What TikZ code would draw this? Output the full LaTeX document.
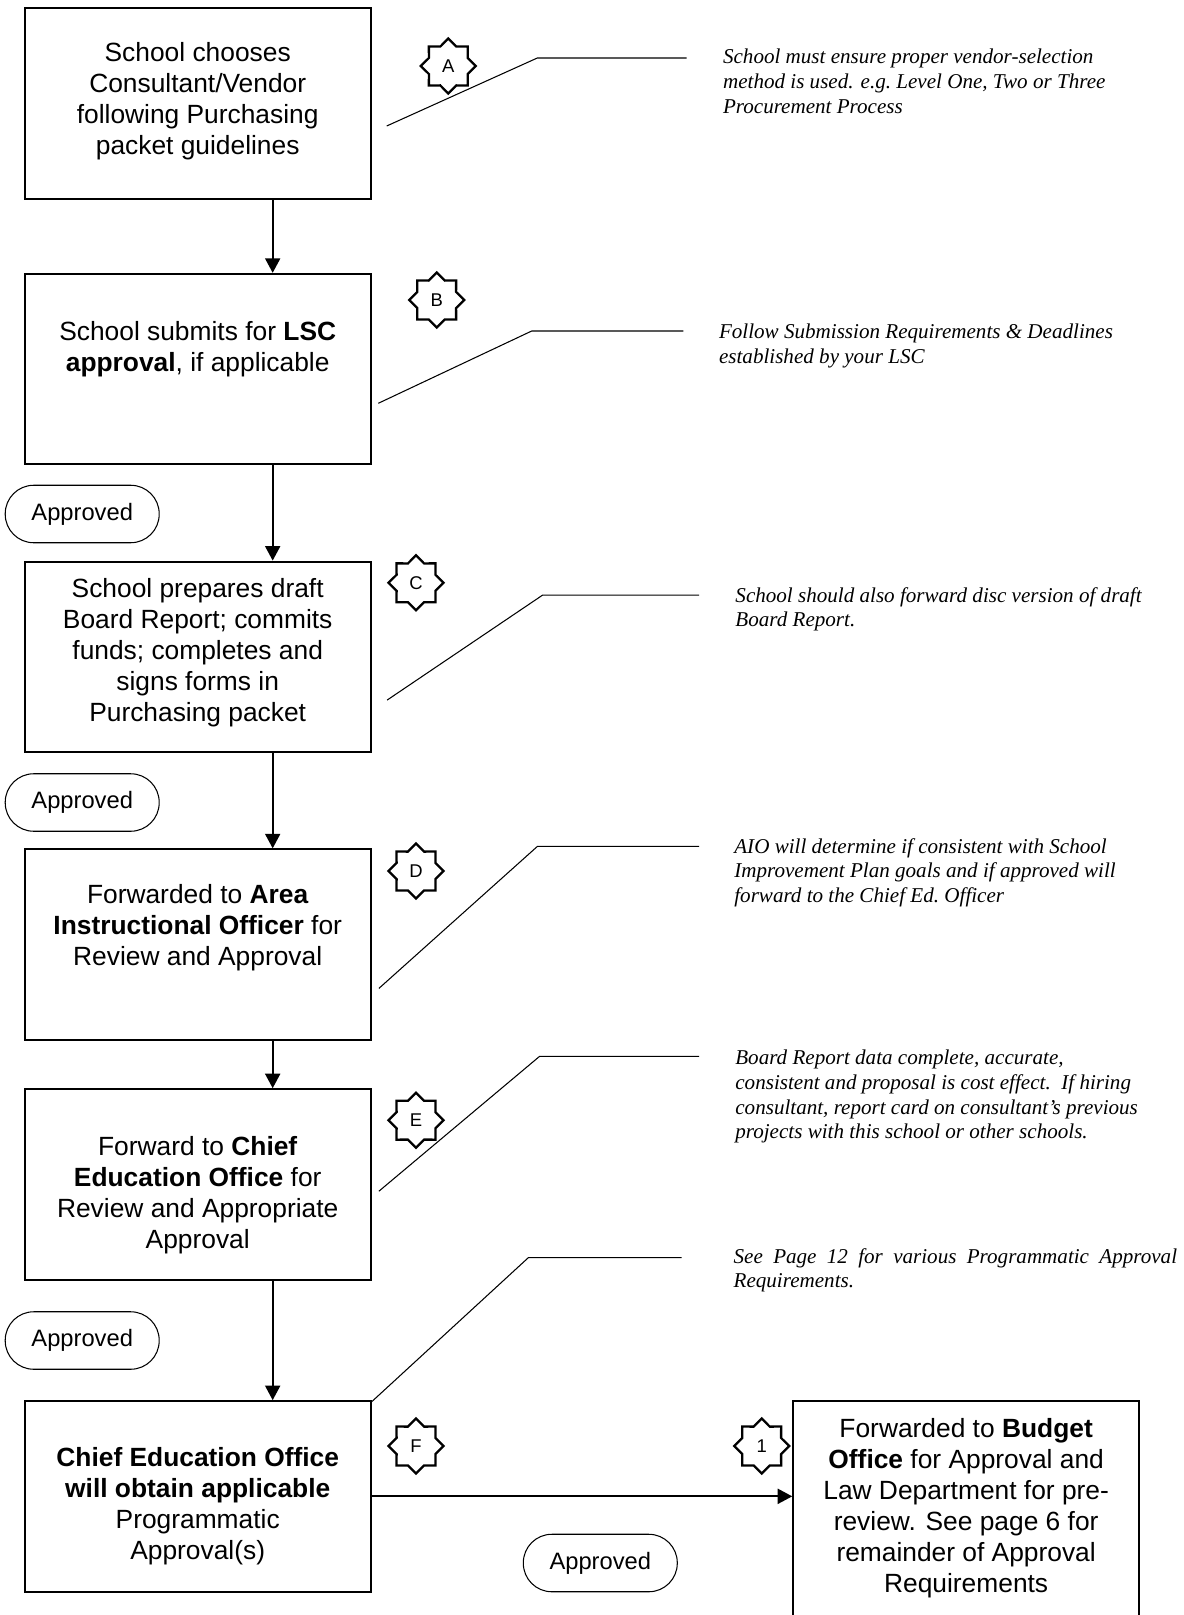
\documentclass[tikz,border=0pt]{standalone}
\usepackage{fontspec}
\setmainfont{Liberation Sans}
\newfontfamily\notefont{Liberation Serif}
\usetikzlibrary{arrows.meta, shapes.geometric}
\tikzset{
	leader/.style = {line width=0.6pt},
	flow/.style = {line width=1.1pt, -{Triangle[length=0.29cm, width=0.3cm]}}
}

\begin{document}
\begin{tikzpicture}[x=0.02cm, y=-0.02cm, node distance=5.756cm]
            \tikzstyle{block} = [draw, rectangle, line width=1.1pt,
                minimum height=3.81cm, minimum width=6.92cm, inner sep=0pt]
            \tikzstyle{boxtext} = [align=center, inner sep=0pt,
                font=\fontsize{15}{17.6}\selectfont]
            \tikzstyle{badge} = [draw, star, star points=8, star point ratio=1.31,
                minimum size=1.1cm, inner sep=0pt, line width=1.3pt,
                font=\fontsize{10.5}{12}\selectfont]
            \tikzstyle{ok} = [draw, rectangle, rounded corners=0.57cm, line width=0.6pt,
                minimum width=3.08cm, minimum height=1.15cm,
                font=\fontsize{13.5}{16}\selectfont]
            \tikzstyle{note} = [anchor=north west, align=left, inner sep=0pt,
                font=\notefont\itshape\fontsize{12}{14}\selectfont]
            \useasboundingbox (0,0) rectangle (1183,1615);
            \clip (0,0) rectangle (1183,1615);

            % main column
            \node [block] (choose) at (197.7,103.5) {};
            \node [block, below of=choose, node distance=5.312cm] (lsc) {};
            \node [block, below of=lsc] (draft) {};
            \node [block, below of=draft] (aio) {};
            \node [block, below of=aio, node distance=4.798cm] (ceo) {};
            \node [block, below of=ceo, node distance=6.24cm] (chief) {};
            \node [block, minimum height=5cm, anchor=north] (budget)
                at ([xshift=15.372cm]chief.north) {};

            \node [boxtext] (choose-t) at ([yshift=0.04cm]choose.center)
                {School chooses\\Consultant/Vendor\\following Purchasing\\packet guidelines};
            \node [boxtext] (lsc-t) at ([yshift=0.39cm]lsc.center)
                {School submits for \textbf{LSC}\\\textbf{approval}, if applicable};
            \node [boxtext] (draft-t) at ([yshift=0.08cm]draft.center)
                {School prepares draft\\Board Report; commits\\funds; completes and\\signs forms in\\Purchasing packet};
            \node [boxtext] (aio-t) at ([yshift=0.33cm]aio.center)
                {Forwarded to \textbf{Area}\\\textbf{Instructional Officer} for\\Review and Approval};
            \node [boxtext] (ceo-t) at ([yshift=-0.22cm]ceo.center)
                {Forward to \textbf{Chief}\\\textbf{Education Office} for\\Review and Appropriate\\Approval};
            \node [boxtext] (chief-t) at ([yshift=-0.2cm]chief.center)
                {\textbf{Chief Education Office}\\\textbf{will obtain applicable}\\Programmatic\\Approval(s)};
            \node [boxtext] (budget-t) at ([yshift=0.36cm]budget.center)
                {Forwarded to \textbf{Budget}\\\textbf{Office} for Approval and\\Law Department for pre-\\review.  See page 6 for\\remainder of Approval\\Requirements};

            \draw [flow] ([xshift=1.5cm]choose.south) -- ([xshift=1.5cm]lsc.north);
            \draw [flow] ([xshift=1.5cm]lsc.south) -- ([xshift=1.5cm]draft.north);
            \draw [flow] ([xshift=1.5cm]draft.south) -- ([xshift=1.5cm]aio.north);
            \draw [flow] ([xshift=1.5cm]aio.south) -- ([xshift=1.5cm]ceo.north);
            \draw [flow] ([xshift=1.5cm]ceo.south) -- ([xshift=1.5cm]chief.north);
            \draw [flow] (chief.east) -- (chief.east -| budget.west);

            % step badges
            \node [badge] (sA) at (448.3,66) {A};
            \node [badge] (sB) at (436.7,300) {B};
            \node [badge] (sC) at (416,582.8) {C};
            \node [badge] (sD) at (416,871) {D};
            \node [badge] (sE) at (416,1120.2) {E};
            \node [badge] (sF) at (416,1446) {F};
            \node [badge] (s1) at (761.7,1446) {1};

            \node [ok] (ok1) at (82.2,514) {Approved};
            \node [ok] (ok2) at (82.2,802.5) {Approved};
            \node [ok] (ok3) at (82.2,1340.5) {Approved};
            \node [ok] (ok4) at (600.3,1563) {Approved};

            % notes on the right
            \node [note] (nA) at (722.7,49)
                {School must ensure proper vendor-selection\\method is used. e.g.\ Level One, Two or Three\\Procurement Process};
            \node [note] (nB) at (718.7,324)
                {Follow Submission Requirements \& Deadlines\\established by your LSC};
            \node [note] (nC) at (735.1,587)
                {School should also forward disc version of draft\\Board Report.};
            \node [note] (nD) at (734,838)
                {AIO will determine if consistent with School\\Improvement Plan goals and if approved will\\forward to the Chief Ed.\ Officer};
            \node [note] (nE) at (735,1050)
                {Board Report data complete, accurate,\\consistent and proposal is cost effect.\ \ If hiring\\consultant, report card on consultant’s previous\\projects with this school or other schools.};
            \node [note, text width=8.87cm] (nF) at (733.3,1248)
                {See\hfill Page\hfill 12\hfill for\hfill various\hfill Programmatic\hfill Approval\\Requirements.};

            \foreach \nm/\fx/\fy/\kx/\ky/\ex in {A/386.7/126/537.3/58/686.7,
                B/378.3/403.3/531.7/331/683.3, C/387.1/700.1/542.6/595.1/699.1,
                D/378.9/988.4/537.5/846.3/699.1, E/378.9/1191.2/539.5/1056.4/699.1,
                F/371.7/1401.7/528.3/1257.7/681.7}{
                \coordinate (\nm-foot) at (\fx,\fy);
                \coordinate (\nm-knee) at (\kx,\ky);
                \coordinate (\nm-end) at (\ex,\ky);
                \draw [leader] (\nm-foot) -- (\nm-knee) -- (\nm-end);
            }
\end{tikzpicture}
\end{document}
